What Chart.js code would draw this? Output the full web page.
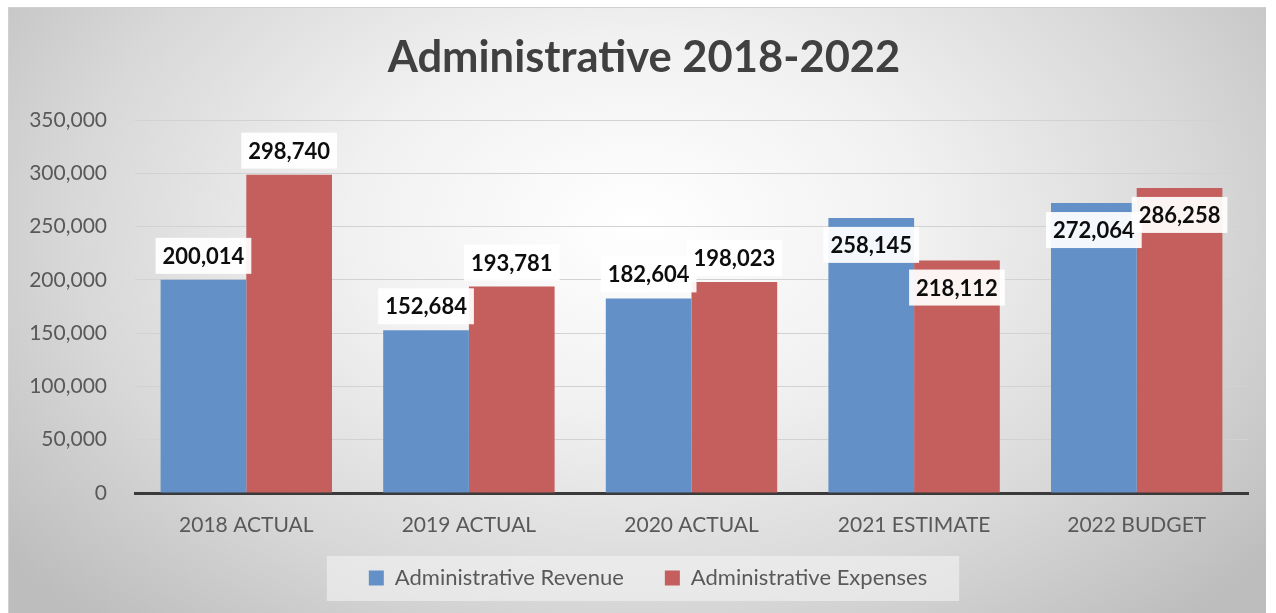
<!DOCTYPE html>
<html><head><meta charset="utf-8">
<script src="https://cdn.jsdelivr.net/npm/chart.js@4.4.0/dist/chart.umd.min.js"></script>
<style>
html,body{margin:0;padding:0;background:#fff;width:1276px;height:613px;overflow:hidden;}
#wrap{position:absolute;left:8px;top:7px;width:1258px;height:606px;
  background:radial-gradient(ellipse 64% 88% at 50% 36%, #ffffff 0%, #f1f1f1 35%, #d8d8d8 70%, #bdbdbd 100%);
  box-shadow: inset 1px 1px 0 #d0d0d0;}
canvas{position:absolute;left:0;top:0;}
</style></head><body>
<div id="wrap"><canvas id="c" width="1258" height="606"></canvas></div>
<script>
const categories = ['2018 ACTUAL', '2019 ACTUAL', '2020 ACTUAL', '2021 ESTIMATE', '2022 BUDGET'];
const revenue = [200014, 152684, 182604, 258145, 272064];
const expenses = [298740, 193781, 198023, 218112, 286258];
const revenuePlace = ['above', 'above', 'above', 'inside', 'inside'];
const expensesPlace = ['above', 'above', 'above', 'inside', 'inside'];
const seriesNames = ['Administrative Revenue', 'Administrative Expenses'];
const titleText = 'Administrative 2018-2022';

const fmt = v => v.toLocaleString('en-US');
const places = [revenuePlace, expensesPlace];

const shiftBlocks = {
  id: 'shiftBlocks',
  afterLayout(chart) {
    const t = chart.titleBlock;
    if (t) { t.left += 16; t.right += 16; }
    const l = chart.legend;
    if (l) { l.left += 20; l.right += 20; l.top -= 14; l.bottom -= 14; }
  }
};

const legendBg = {
  id: 'legendBg',
  beforeDraw(chart) {
    const lg = chart.legend;
    if (!lg || !lg.legendHitBoxes || !lg.legendHitBoxes.length) return;
    const hb = lg.legendHitBoxes;
    const first = hb[0], last = hb[hb.length - 1];
    const cy = first.top + first.height / 2;
    const ctx = chart.ctx;
    ctx.save();
    ctx.fillStyle = 'rgba(242,242,242,0.62)';
    ctx.fillRect(first.left - 42, cy - 22, (last.left + last.width) - first.left + 74, 45);
    ctx.restore();
  }
};

const valueLabels = {
  id: 'valueLabels',
  afterDatasetsDraw(chart) {
    const ctx = chart.ctx;
    ctx.save();
    ctx.font = 'bold 22px Lato';
    ctx.textAlign = 'center';
    ctx.textBaseline = 'middle';
    chart.data.datasets.forEach((ds, i) => {
      const meta = chart.getDatasetMeta(i);
      meta.data.forEach((bar, j) => {
        const txt = fmt(ds.data[j]);
        const cy = places[i][j] === 'inside' ? bar.y + 27 : bar.y - 24;
        const w = ctx.measureText(txt).width + 14;
        const h = 36;
        ctx.fillStyle = 'rgba(255,255,255,0.93)';
        ctx.fillRect(bar.x - w / 2, cy - h / 2, w, h);
        ctx.fillStyle = '#0d0d0d';
        ctx.fillText(txt, bar.x, cy + 1);
      });
    });
    ctx.restore();
  }
};

new Chart(document.getElementById('c'), {
  type: 'bar',
  data: {
    labels: categories,
    datasets: [
      { label: seriesNames[0], data: revenue, backgroundColor: '#6390c7', borderWidth: 0 },
      { label: seriesNames[1], data: expenses, backgroundColor: '#c45f5e', borderWidth: 0 }
    ]
  },
  options: {
    responsive: false,
    animation: false,
    devicePixelRatio: 1,
    datasets: { bar: { categoryPercentage: 0.77, barPercentage: 1.0 } },
    layout: { padding: { left: 0, right: 18, top: 0, bottom: 0 } },
    plugins: {
      tooltip: { enabled: false },
      title: {
        display: true,
        text: titleText,
        color: '#404040',
        font: { family: 'Lato', size: 43.5, weight: 'bold', lineHeight: 1.2 },
        padding: { top: 25, bottom: 35.8 }
      },
      legend: {
        position: 'bottom',
        labels: {
          color: '#595959',
          font: { family: 'Lato', size: 22 },
          boxWidth: 15, boxHeight: 15,
          padding: 41
        }
      }
    },
    scales: {
      x: {
        grid: { display: false, drawTicks: false },
        border: { display: true, color: '#3a3a3a', width: 3 },
        ticks: { color: '#595959', font: { family: 'Lato', size: 21 }, padding: 20 },
        afterFit(scale) { scale.height = 47; }
      },
      y: {
        min: 0, max: 350000,
        ticks: { stepSize: 50000, color: '#595959', font: { family: 'Lato', size: 21 }, padding: 28,
          callback: v => fmt(v) },
        grid: { color: '#d2d2d2', lineWidth: 1, drawTicks: false },
        border: { display: false },
        afterFit(scale) { scale.width = 127; }
      }
    }
  },
  plugins: [shiftBlocks, legendBg, valueLabels]
});
</script></body></html>
